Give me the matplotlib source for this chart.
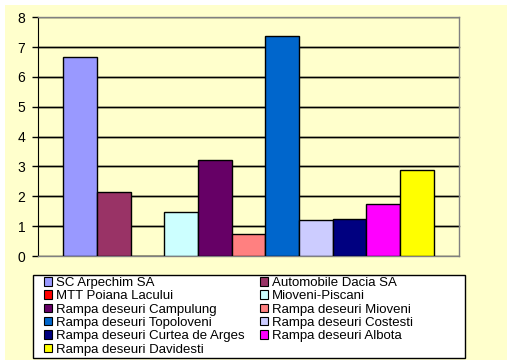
import matplotlib
matplotlib.use("Agg")
import matplotlib.pyplot as plt
from matplotlib.patches import Rectangle, Patch
from matplotlib.lines import Line2D
from matplotlib.transforms import blended_transform_factory
import numpy as np

plt.rcParams['font.family'] = ['Liberation Sans', 'DejaVu Sans']

series = ["SC Arpechim SA", "Automobile Dacia SA", "MTT Poiana Lacului", "Mioveni-Piscani",
          "Rampa deseuri Campulung", "Rampa deseuri Mioveni", "Rampa deseuri Topoloveni",
          "Rampa deseuri Costesti", "Rampa deseuri Curtea de Arges", "Rampa deseuri Albota",
          "Rampa deseuri Davidesti"]
values = [6.66, 2.14, 0.0, 1.47, 3.21, 0.74, 7.37, 1.21, 1.24, 1.74, 2.88]
colors = ["#9999FF", "#993366", "#FF0000", "#CCFFFF", "#660066", "#FF8080", "#0066CC",
          "#CCCCFF", "#000080", "#FF00FF", "#FFFF00"]
yticks = [0, 1, 2, 3, 4, 5, 6, 7, 8]

W, H = 512, 363
fig = plt.figure(figsize=(W/100, H/100), dpi=100)
fig.patch.set_facecolor("white")
fig.patches.append(Rectangle((5/W, 1-360/H), 502/W, 355/H, transform=fig.transFigure,
                             facecolor="#FFFFCC", edgecolor="none", zorder=-2))

ax = fig.add_axes([38/W, 1-256/H, 421/W, (256-17.3)/H])
ax.set_facecolor("none")
n = len(series)
pos = np.arange(n) - (n-1)/2
xl = (-n/2-0.75, n/2+0.75)
for p, v, c in zip(pos, values, colors):
    ax.bar(p, v, width=1.0, color=c, edgecolor="black", linewidth=1.0, zorder=3)
ax.set_xlim(*xl)
ax.set_ylim(0, 8)
ax.set_yticks(yticks)
ax.set_yticklabels([str(t) for t in yticks], fontsize=10)
ax.set_xticks([])
ax.set_axisbelow(True)
ax.yaxis.grid(True, color="black", linewidth=1.0)
for s in ["top", "right", "bottom"]:
    ax.spines[s].set_color("#808080")
    ax.spines[s].set_linewidth(1.0)
ax.spines["left"].set_color("black")
ax.tick_params(axis="y", length=4, width=1, direction="out", pad=5)

# gridlines drawn beneath the axes content (axes patch is transparent)
tr = blended_transform_factory(ax.transAxes, ax.transData)
for t in yticks[1:-1]:
    fig.lines.append(Line2D([0, 1], [t, t], transform=tr, color="black", linewidth=1.0, zorder=-1))

# legend box
fig.patches.append(Rectangle((33/W, 1-358/H), 432/W, 83/H, transform=fig.transFigure,
                             facecolor="white", edgecolor="black", linewidth=1.0, zorder=5))
handles = [Patch(facecolor=c, edgecolor="black", linewidth=0.8) for c in colors]
order = [0, 2, 4, 6, 8, 10, 1, 3, 5, 7, 9]
leg = fig.legend([handles[i] for i in order], [series[i] for i in order], ncol=2,
                 loc="upper left", bbox_to_anchor=(44/W, 1-277/H),
                 fontsize=9.5, frameon=False,
                 labelspacing=0.1, handlelength=0.6, handleheight=0.6, handletextpad=0.3,
                 borderpad=0, columnspacing=1.2, borderaxespad=0)
leg.set_zorder(6)

fig.savefig("out.png", dpi=100, facecolor="white")
